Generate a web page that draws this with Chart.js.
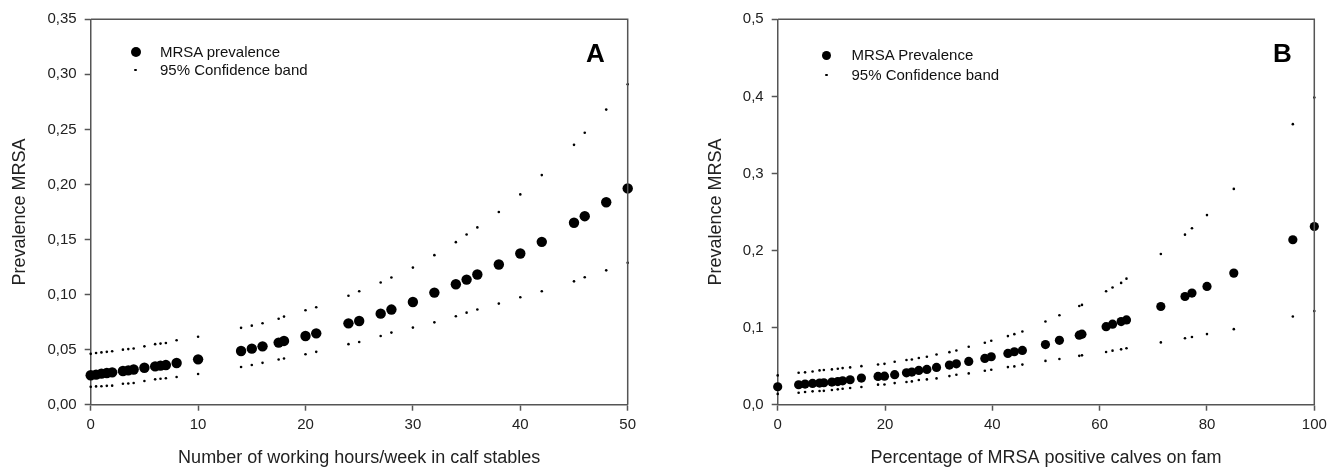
<!DOCTYPE html>
<html>
<head>
<meta charset="utf-8">
<script src="https://cdn.jsdelivr.net/npm/chart.js@4.4.1/dist/chart.umd.min.js"></script>
<style>
  html, body { margin: 0; padding: 0; background: #fff; }
  body { width: 1336px; height: 469px; position: relative; overflow: hidden; font-family: "Liberation Sans", Arial, sans-serif; }
  canvas { position: absolute; top: 0; }
  #cA { left: 0; }
  #cB { left: 668px; }
  .lg { position: absolute; font-size: 15px; color: #111; height: 20px; line-height: 20px; white-space: nowrap; }
  .dot { position: absolute; border-radius: 50%; background: #000; }
  .panel { position: absolute; font-size: 26px; font-weight: bold; color: #000; height: 30px; line-height: 30px; }
</style>
</head>
<body>
<canvas id="cA" width="668" height="469"></canvas>
<canvas id="cB" width="668" height="469"></canvas>

<div class="dot" style="left:130.5px; top:46.7px; width:10px; height:10px;"></div>
<div class="lg" style="left:160px; top:41.7px;">MRSA prevalence</div>
<div class="dot" style="left:134.2px; top:68.7px; width:2.6px; height:2.6px;"></div>
<div class="lg" style="left:160px; top:60px;">95% Confidence band</div>
<div class="panel" style="left:586px; top:38px;">A</div>

<div class="dot" style="left:822px; top:50.5px; width:9px; height:9px;"></div>
<div class="lg" style="left:851.5px; top:45px;">MRSA Prevalence</div>
<div class="dot" style="left:825.1px; top:73.7px; width:2.6px; height:2.6px;"></div>
<div class="lg" style="left:851.5px; top:65px;">95% Confidence band</div>
<div class="panel" style="left:1273px; top:38px;">B</div>

<script>
// ---- Panel A data ----
const hoursA = [0, 0.5, 1, 1.5, 2, 3, 3.5, 4, 5, 6, 6.5, 7, 8, 10, 14, 15, 16, 17.5, 18, 20, 21, 24, 25, 27, 28, 30, 32, 34, 35, 36, 38, 40, 42, 45, 46, 48, 50];
const prevA = [0.0267, 0.0273, 0.0282, 0.0288, 0.0294, 0.0306, 0.0312, 0.032, 0.0336, 0.0348, 0.0355, 0.036, 0.0379, 0.0412, 0.0488, 0.0509, 0.053, 0.0564, 0.0579, 0.0624, 0.0648, 0.0739, 0.076, 0.0827, 0.0864, 0.0933, 0.1018, 0.1094, 0.1136, 0.1182, 0.1273, 0.1373, 0.1479, 0.1652, 0.1712, 0.1839, 0.1964];
const upperA = [0.0462, 0.047, 0.0475, 0.048, 0.0485, 0.050, 0.0505, 0.051, 0.053, 0.055, 0.0555, 0.056, 0.0585, 0.0617, 0.0698, 0.0718, 0.074, 0.078, 0.080, 0.0858, 0.0885, 0.099, 0.103, 0.111, 0.1155, 0.1245, 0.1358, 0.1476, 0.1545, 0.161, 0.175, 0.191, 0.2085, 0.236, 0.247, 0.268, 0.291];
const lowerA = [0.0162, 0.0166, 0.0168, 0.0171, 0.0173, 0.019, 0.0193, 0.0197, 0.0215, 0.023, 0.0235, 0.024, 0.0252, 0.0279, 0.0343, 0.036, 0.038, 0.041, 0.042, 0.0458, 0.048, 0.055, 0.057, 0.0624, 0.0655, 0.070, 0.0748, 0.0803, 0.0836, 0.0864, 0.0918, 0.0976, 0.103, 0.112, 0.1158, 0.122, 0.1288];
const xTicksA = [0, 10, 20, 30, 40, 50];
const yTicksA = [0, 0.05, 0.10, 0.15, 0.20, 0.25, 0.30, 0.35];

// ---- Panel B data ----
const pctB = [0, 3.9, 5.1, 6.5, 7.8, 8.6, 10.1, 11.2, 12.1, 13.5, 15.6, 18.7, 19.9, 21.8, 24, 25, 26.3, 27.8, 29.6, 32, 33.3, 35.6, 38.6, 39.8, 42.9, 44.1, 45.6, 49.9, 52.5, 56.2, 56.7, 61.2, 62.4, 64, 65, 71.4, 75.9, 77.2, 80, 85, 96, 100];
const prevB = [0.0233, 0.0259, 0.0268, 0.0276, 0.028, 0.0285, 0.0294, 0.030, 0.031, 0.0324, 0.0345, 0.0367, 0.037, 0.0389, 0.0414, 0.0423, 0.0445, 0.0458, 0.0484, 0.0514, 0.053, 0.0561, 0.060, 0.0622, 0.0665, 0.0687, 0.0704, 0.078, 0.0835, 0.0902, 0.0915, 0.1012, 0.1045, 0.1078, 0.110, 0.1274, 0.1404, 0.1448, 0.1534, 0.1707, 0.214, 0.2312];
const upperB = [0.038, 0.0414, 0.042, 0.043, 0.0445, 0.045, 0.0458, 0.0466, 0.0475, 0.0484, 0.050, 0.0522, 0.053, 0.0557, 0.0579, 0.0587, 0.0605, 0.0622, 0.0652, 0.0682, 0.0704, 0.0751, 0.0803, 0.0829, 0.089, 0.0915, 0.095, 0.108, 0.116, 0.128, 0.1295, 0.1471, 0.152, 0.158, 0.1635, 0.1955, 0.2206, 0.229, 0.246, 0.280, 0.364, 0.3985];
const lowerB = [0.014, 0.0155, 0.0164, 0.0173, 0.0177, 0.018, 0.019, 0.0199, 0.0207, 0.0216, 0.0229, 0.026, 0.0263, 0.028, 0.0294, 0.0302, 0.032, 0.0328, 0.0341, 0.0371, 0.0389, 0.0406, 0.044, 0.0453, 0.0488, 0.0497, 0.052, 0.0568, 0.0592, 0.0634, 0.064, 0.0683, 0.0701, 0.0718, 0.0732, 0.0808, 0.0863, 0.0879, 0.0916, 0.098, 0.1145, 0.1214];
const xTicksB = [0, 20, 40, 60, 80, 100];
const yTicksB = [0, 0.1, 0.2, 0.3, 0.4, 0.5];

const FONT = "'Liberation Sans', Arial, sans-serif";
const AXIS = '#555';

function pts(xs, ys) { return xs.map((x, i) => ({ x: x, y: ys[i] })); }

const framePlugin = {
  id: 'frame',
  afterDraw(chart) {
    const { ctx, chartArea: a } = chart;
    ctx.save();
    ctx.strokeStyle = AXIS;
    ctx.lineWidth = 1.5;
    ctx.beginPath();
    ctx.moveTo(a.left, a.top);
    ctx.lineTo(a.right, a.top);
    ctx.lineTo(a.right, a.bottom);
    ctx.stroke();
    ctx.restore();
  }
};

function makeChart(id, cfg) {
  const xs = cfg.x, big = cfg.prev, up = cfg.upper, lo = cfg.lower;
  return new Chart(document.getElementById(id), {
    type: 'scatter',
    data: {
      datasets: [
        { label: cfg.bandLabel, data: pts(xs, up), pointRadius: 1.3, pointBackgroundColor: '#000', pointBorderWidth: 0, clip: false },
        { label: cfg.bandLabel, data: pts(xs, lo), pointRadius: 1.3, pointBackgroundColor: '#000', pointBorderWidth: 0, clip: false },
        { label: cfg.prevLabel, data: pts(xs, big), pointRadius: cfg.bigR, pointBackgroundColor: '#000', pointBorderWidth: 0, clip: false }
      ]
    },
    options: {
      responsive: false,
      animation: false,
      devicePixelRatio: 1,
      layout: { padding: cfg.padding },
      plugins: { legend: { display: false }, tooltip: { enabled: false } },
      scales: {
        x: {
          type: 'linear', min: cfg.xTicks[0], max: cfg.xTicks[cfg.xTicks.length - 1],
          afterBuildTicks: s => { s.ticks = cfg.xTicks.map(v => ({ value: v })); },
          afterFit: s => { s.height = cfg.xH; },
          grid: { display: true, drawOnChartArea: false, drawTicks: true, tickLength: 6, tickColor: AXIS, tickWidth: 1.5 },
          border: { display: true, color: AXIS, width: 1.5 },
          ticks: { color: '#222', font: { family: FONT, size: 15 }, padding: 5, maxRotation: 0, callback: v => String(v) },
          title: { display: true, text: cfg.xTitle, color: '#222', font: { family: FONT, size: 18 }, padding: { top: 0, bottom: 0 } }
        },
        y: {
          type: 'linear', min: cfg.yTicks[0], max: cfg.yTicks[cfg.yTicks.length - 1],
          afterBuildTicks: s => { s.ticks = cfg.yTicks.map(v => ({ value: v })); },
          afterFit: s => { s.width = cfg.yW; },
          grid: { display: true, drawOnChartArea: false, drawTicks: true, tickLength: 6, tickColor: AXIS, tickWidth: 1.5 },
          border: { display: true, color: AXIS, width: 1.5 },
          ticks: { color: '#222', font: { family: FONT, size: 15 }, padding: 8, callback: v => v.toFixed(cfg.dec).replace('.', ',') },
          title: { display: true, text: 'Prevalence MRSA', color: '#222', font: { family: FONT, size: 18 }, padding: { top: cfg.yTitlePad, bottom: 0 } }
        }
      }
    },
    plugins: [framePlugin]
  });
}

makeChart('cA', {
  x: hoursA, prev: prevA, upper: upperA, lower: lowerA,
  xTicks: xTicksA, yTicks: yTicksA, dec: 2, bigR: 5.2,
  prevLabel: 'MRSA prevalence', bandLabel: '95% Confidence band',
  xTitle: 'Number of working hours/week in calf stables',
  padding: { top: 19.3, right: 40.3, bottom: 0, left: 0 },
  yW: 90.7, xH: 64.3, yTitlePad: 9.2
});

makeChart('cB', {
  x: pctB, prev: prevB, upper: upperB, lower: lowerB,
  xTicks: xTicksB, yTicks: yTicksB, dec: 1, bigR: 4.6,
  prevLabel: 'MRSA Prevalence', bandLabel: '95% Confidence band',
  xTitle: 'Percentage of MRSA positive calves on fam',
  padding: { top: 19.3, right: 21.7, bottom: 0, left: 0 },
  yW: 109.7, xH: 64.3, yTitlePad: 37.2
});
</script>
</body>
</html>
